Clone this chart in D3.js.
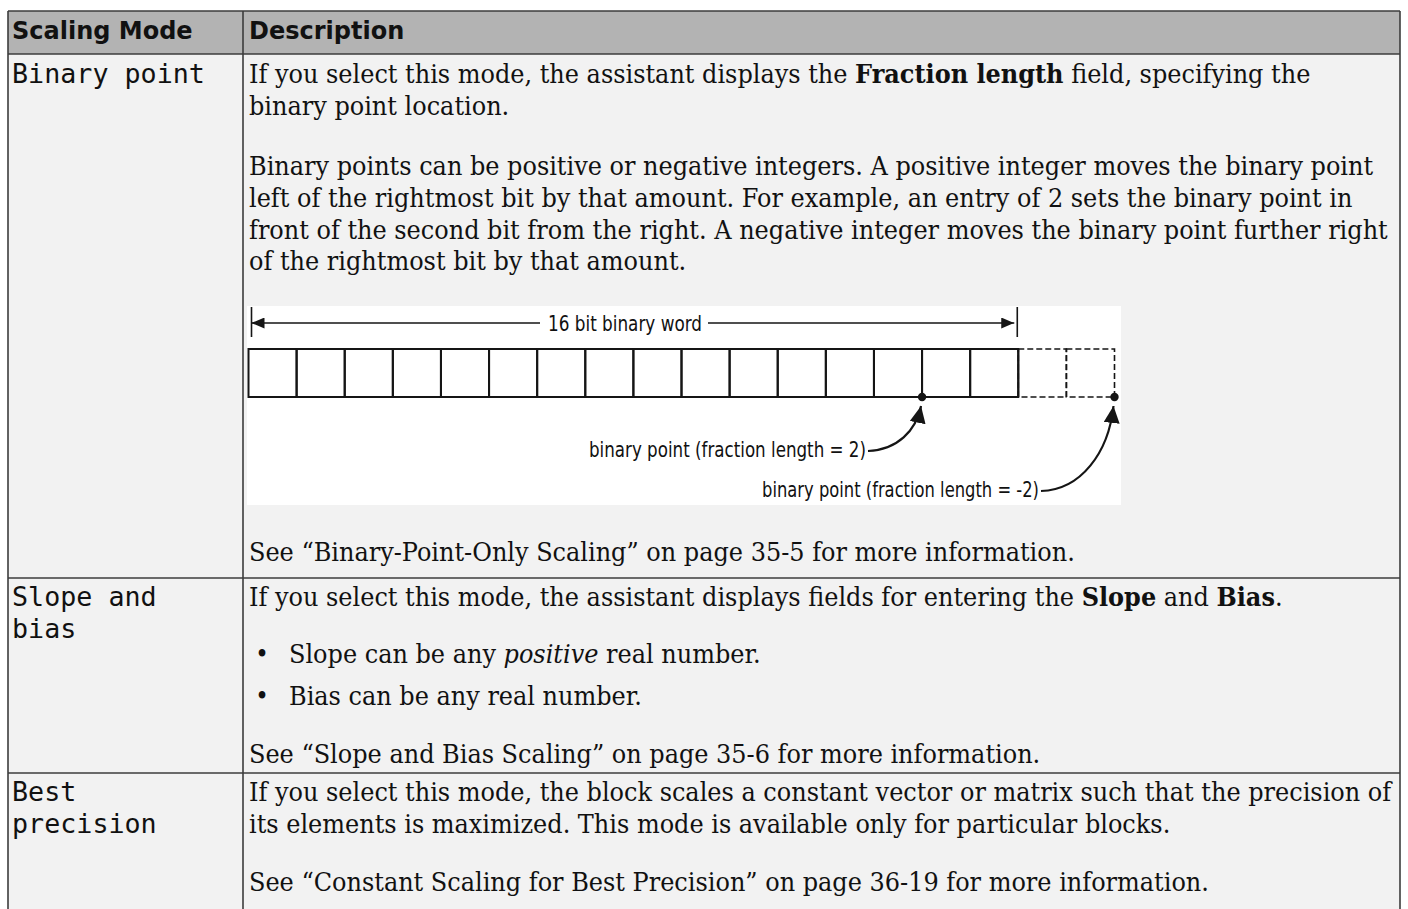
<!DOCTYPE html>
<html><head><meta charset="utf-8">
<script src="https://cdn.jsdelivr.net/npm/d3@7"></script>
<style>
body{margin:0;background:#fff;}
text{white-space:pre;}
.serif{font-family:"DejaVu Serif",serif;font-stretch:condensed;font-size:25.5px;fill:#111;}
.mono{font-family:"DejaVu Sans Mono",monospace;font-size:26.5px;fill:#111;}
.head{font-family:"DejaVu Sans",sans-serif;font-weight:bold;font-size:24px;fill:#111;}
.fig{font-family:"DejaVu Sans",sans-serif;font-stretch:condensed;font-size:21px;fill:#111;}
</style>
</head><body>
<svg id="c" width="1408" height="909"></svg>
<script>
// ---------------- data ----------------
const columns = ["Scaling Mode", "Description"];
const modeLines = [["Binary point"], ["Slope and", "bias"], ["Best", "precision"]];

// description rows: list of lines; each line = list of [text, style]; "fig" = diagram, "li" = bullet
const descRow1 = [
  ["p", [["If you select this mode, the assistant displays the ", ""], ["Fraction length", "b"], [" field, specifying the", ""]]],
  ["p", [["binary point location.", ""]]],
  ["p", [["Binary points can be positive or negative integers. A positive integer moves the binary point", ""]]],
  ["p", [["left of the rightmost bit by that amount. For example, an entry of 2 sets the binary point in", ""]]],
  ["p", [["front of the second bit from the right. A negative integer moves the binary point further right", ""]]],
  ["p", [["of the rightmost bit by that amount.", ""]]],
  ["fig", []],
  ["p", [["See “Binary-Point-Only Scaling” on page 35-5 for more information.", ""]]]
];
const descRow2 = [
  ["p", [["If you select this mode, the assistant displays fields for entering the ", ""], ["Slope", "b"], [" and ", ""], ["Bias", "b"], [".", ""]]],
  ["li", [["Slope can be any ", ""], ["positive", "i"], [" real number.", ""]]],
  ["li", [["Bias can be any real number.", ""]]],
  ["p", [["See “Slope and Bias Scaling” on page 35-6 for more information.", ""]]]
];
const descRow3 = [
  ["p", [["If you select this mode, the block scales a constant vector or matrix such that the precision of", ""]]],
  ["p", [["its elements is maximized. This mode is available only for particular blocks.", ""]]],
  ["p", [["See “Constant Scaling for Best Precision” on page 36-19 for more information.", ""]]]
];
const descRows = [descRow1, descRow2, descRow3];

// diagram data
const wordBits = 16;          // solid bits
const extraBits = 2;          // dashed bits beyond the word
const binaryPoints = [2, -2]; // fraction lengths shown
const wordLabel = "16 bit binary word";
const pointLabels = ["binary point (fraction length = 2)", "binary point (fraction length = -2)"];

// ---------------- layout ----------------
const W = 1408, H = 909;
const L = {
  x0: 8, x1: 1400, col: 243, y0: 11, head: 54,
  rowEdges: [54, 578, 773, 915],
  leftX: 12, descX: 249, bulletX: 262, bulletTextX: 289,
  headBase: 39,
  modeBase: [[83], [606, 638], [801, 833]],
  descBase: [[83, 115, 175, 207, 239, 270, 306, 561], [606, 663, 705, 763], [801, 833, 891]],
  serifTarget: 1125,   // width of the "Binary points can be..." line
  monoTarget: 193      // width of "Binary point"
};

const svg = d3.select("#c");
svg.append("rect").attr("width", W).attr("height", H).attr("fill", "#fff");
svg.append("rect").attr("x", L.x0).attr("y", L.y0).attr("width", L.x1 - L.x0).attr("height", L.head - L.y0).attr("fill", "#b3b3b3");
svg.append("rect").attr("x", L.x0).attr("y", L.head).attr("width", L.x1 - L.x0).attr("height", H - L.head + 10).attr("fill", "#f2f2f2");

// calibration of horizontal scale for the fonts
function measure(cls, str) {
  const t = svg.append("text").attr("class", cls).text(str);
  const w = t.node().getComputedTextLength();
  t.remove();
  return w;
}
const kSerif = L.serifTarget / measure("serif", descRow1[2][1][0][0]);
const kMono = L.monoTarget / measure("mono", modeLines[0][0]);

function richText(g, segs, x, y, k) {
  const t = g.append("text").attr("class", "serif")
    .attr("transform", `translate(${x},${y}) scale(${k},1)`);
  segs.forEach(([s, st]) => {
    t.append("tspan").text(s)
      .attr("font-weight", st === "b" ? "bold" : null)
      .attr("font-style", st === "i" ? "italic" : null);
  });
  return t;
}

// header
const hx = [L.leftX, L.descX];
svg.selectAll("text.head").data(columns).join("text")
  .attr("class", "head").attr("x", (d, i) => hx[i]).attr("y", L.headBase).text(d => d);

// mode column
modeLines.forEach((lines, r) => {
  lines.forEach((s, j) => {
    svg.append("text").attr("class", "mono")
      .attr("transform", `translate(${L.leftX},${L.modeBase[r][j]}) scale(${kMono},1)`)
      .text(s);
  });
});

// descriptions
let figTop = 0;
descRows.forEach((row, r) => {
  const g = svg.append("g");
  row.forEach(([kind, segs], j) => {
    const y = L.descBase[r][j];
    if (kind === "fig") { figTop = y; return; }
    if (kind === "li") {
      g.append("text").attr("class", "serif").attr("x", L.bulletX).attr("y", y).attr("text-anchor", "middle").text("•");
      richText(g, segs, L.bulletTextX, y, kSerif);
    } else {
      richText(g, segs, L.descX, y, kSerif);
    }
  });
});

// ---------------- diagram ----------------
const fig = svg.append("g");
const figX0 = 247, figX1 = 1121, figH = 199;
fig.append("rect").attr("x", figX0).attr("y", figTop).attr("width", figX1 - figX0).attr("height", figH).attr("fill", "#fff");

const x = d3.scaleLinear().domain([0, wordBits + extraBits]).range([248.5, 1114.5]);
const boxTop = figTop + 43, boxBot = figTop + 91;
const ink = "#151515";

const defs = svg.append("defs");
function marker(id, len, half) {
  defs.append("marker").attr("id", id).attr("markerUnits", "userSpaceOnUse")
    .attr("viewBox", `0 ${-half} ${len} ${2 * half}`).attr("refX", len).attr("refY", 0)
    .attr("markerWidth", len).attr("markerHeight", 2 * half).attr("orient", "auto-start-reverse")
    .append("path").attr("d", `M0,${-half}L${len},0L0,${half}Z`).attr("fill", ink);
}
marker("dimArrow", 13, 5.5);
marker("curveArrow", 17, 8);

// solid bits
const solid = d3.range(wordBits);
fig.selectAll("rect.bit").data(solid).join("rect").attr("class", "bit")
  .attr("x", d => x(d)).attr("y", boxTop).attr("width", d => x(d + 1) - x(d)).attr("height", boxBot - boxTop)
  .attr("fill", "none").attr("stroke", ink).attr("stroke-width", 2);
// dashed bits
const dashed = d3.range(wordBits, wordBits + extraBits);
fig.selectAll("rect.dbit").data(dashed).join("rect").attr("class", "dbit")
  .attr("x", d => x(d)).attr("y", boxTop).attr("width", d => x(d + 1) - x(d)).attr("height", boxBot - boxTop)
  .attr("fill", "none").attr("stroke", ink).attr("stroke-width", 1.6).attr("stroke-dasharray", "6,3");
fig.append("line").attr("x1", x(wordBits)).attr("x2", x(wordBits)).attr("y1", boxTop).attr("y2", boxBot)
  .attr("stroke", ink).attr("stroke-width", 2);

// dimension line
const dimY = figTop + 17;
const wx0 = x(0) + 3, wx1 = x(wordBits) - 1;
[wx0, wx1].forEach(v => fig.append("line").attr("x1", v).attr("x2", v).attr("y1", figTop + 1).attr("y2", figTop + 31).attr("stroke", ink).attr("stroke-width", 1.6));
const labelCx = 625;
fig.append("line").attr("x1", wx0).attr("x2", labelCx - 85).attr("y1", dimY).attr("y2", dimY)
  .attr("stroke", ink).attr("stroke-width", 1.6).attr("marker-start", "url(#dimArrow)");
fig.append("line").attr("x1", labelCx + 83).attr("x2", wx1 - 3).attr("y1", dimY).attr("y2", dimY)
  .attr("stroke", ink).attr("stroke-width", 1.6).attr("marker-end", "url(#dimArrow)");
fig.append("text").attr("class", "fig").attr("x", labelCx).attr("y", dimY + 8).attr("text-anchor", "middle")
  .attr("textLength", 154).attr("lengthAdjust", "spacingAndGlyphs").text(wordLabel);

// binary points
const pointX = binaryPoints.map(f => x(wordBits - f));
fig.selectAll("circle.pt").data(pointX).join("circle").attr("class", "pt")
  .attr("cx", d => d).attr("cy", boxBot).attr("r", 4.2).attr("fill", ink);

// labels and curved arrows
const labelEnds = [866, 1039];
const labelBase = [figTop + 151, figTop + 191];
pointLabels.forEach((s, i) => {
  fig.append("text").attr("class", "fig").attr("x", labelEnds[i]).attr("y", labelBase[i]).attr("text-anchor", "end")
    .attr("textLength", 277).attr("lengthAdjust", "spacingAndGlyphs").text(s);
  const sx = labelEnds[i] + 2, sy = labelBase[i] - 6;
  const tx = pointX[i] - 1, ty = boxBot + 9;
  const p = d3.path();
  p.moveTo(sx, sy);
  p.bezierCurveTo(sx + (tx - sx) * 0.55, sy - 1, tx - 5, sy - (sy - ty) * 0.45, tx, ty);
  fig.append("path").attr("d", p.toString()).attr("fill", "none").attr("stroke", ink).attr("stroke-width", 2.2)
    .attr("marker-end", "url(#curveArrow)");
});

// ---------------- borders ----------------
const border = "#3c3c3c";
const lines = [
  [L.x0, L.y0, L.x1, L.y0], [L.x0, L.y0, L.x0, H + 5], [L.x1, L.y0, L.x1, H + 5], [L.col, L.y0, L.col, H + 5],
  ...L.rowEdges.slice(0, 3).map(y => [L.x0, y, L.x1, y])
];
svg.selectAll("line.b").data(lines).join("line").attr("class", "b")
  .attr("x1", d => d[0]).attr("y1", d => d[1]).attr("x2", d => d[2]).attr("y2", d => d[3])
  .attr("stroke", border).attr("stroke-width", 1.6);
</script>
</body></html>
